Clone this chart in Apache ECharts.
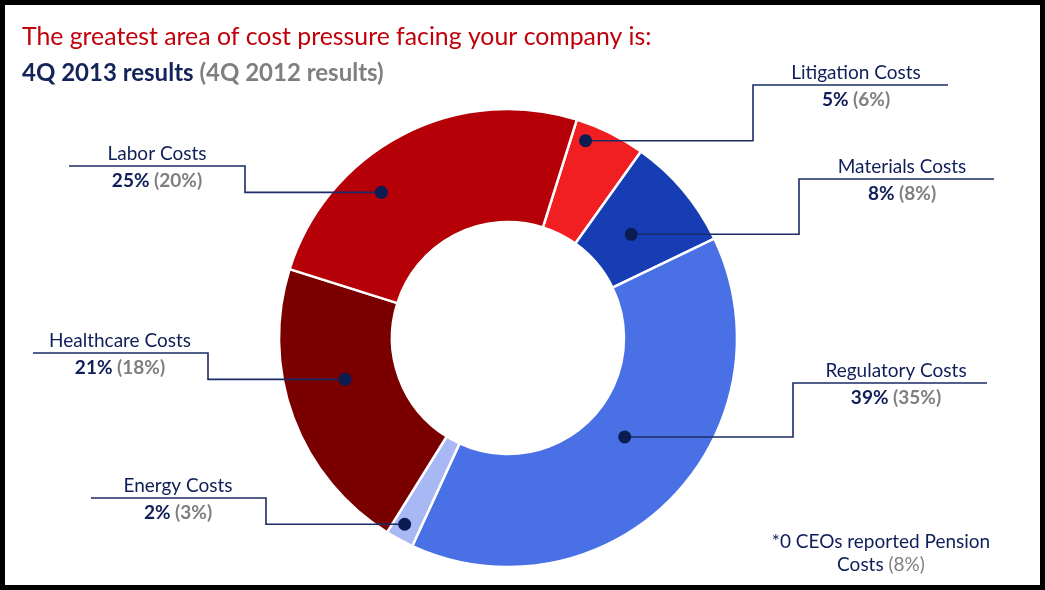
<!DOCTYPE html>
<html>
<head>
<meta charset="utf-8">
<script src="https://cdn.jsdelivr.net/npm/echarts@6/dist/echarts.min.js"></script>
<style>
  html, body { margin: 0; padding: 0; background: #fff; }
  #chart { width: 1045px; height: 590px; }
</style>
</head>
<body>
<div id="chart"></div>
<script>
// slices, clockwise from the top
var names = ['Litigation Costs', 'Materials Costs', 'Regulatory Costs', 'Energy Costs', 'Healthcare Costs', 'Labor Costs'];
var values2013 = [5, 8, 39, 2, 21, 25];
var values2012 = [6, 8, 35, 3, 18, 20];
var colors = ['#F21F22', '#163DB3', '#4A70E6', '#A8B8F4', '#7A0000', '#B40006'];

// callout layout: where the dot sits inside its slice (fraction of slice, radius px),
// text centre, underline y, elbow x and far end x of the underline
var callouts = [
  { at: 0.22, r: 212, textX: 856, lineY: 85,  elbowX: 753, endX: 948 },
  { at: 0.50, r: 161, textX: 902, lineY: 179, elbowX: 799, endX: 994 },
  { at: 0.47, r: 153, textX: 896, lineY: 383, elbowX: 793, endX: 987 },
  { at: 0.60, r: 213, textX: 178, lineY: 498, elbowX: 266, endX: 91 },
  { at: 0.58, r: 168, textX: 120, lineY: 353, elbowX: 208, endX: 33 },
  { at: 0.35, r: 193, textX: 157, lineY: 166, elbowX: 245, endX: 69 }
];

var CENTER = [508, 338];
var R_IN = 116, R_OUT = 229;
var START = 72.5;
var NAVY = '#0F1E58';
var GREY = '#7F7F7F';
var FONT = 'Lato';
var LBL = '19px ' + FONT;
var LBL_B = 'bold 19px ' + FONT;

var total = values2013.reduce(function (a, b) { return a + b; }, 0);

var pieData = names.map(function (n, i) {
  return { name: n, value: values2013[i], itemStyle: { color: colors[i] } };
});

// dot positions on the polar system: [radius, angle value in % of the whole]
var dotData = [];
var acc = 0;
for (var i = 0; i < values2013.length; i++) {
  var pct = values2013[i] / total * 100;
  dotData.push([callouts[i].r, acc + pct * callouts[i].at, i]);
  acc += pct;
}

var chart = echarts.init(document.getElementById('chart'));

chart.setOption({
  animation: false,
  backgroundColor: '#fff',
  textStyle: { fontFamily: FONT },
  polar: { center: CENTER, radius: R_OUT },
  angleAxis: { type: 'value', min: 0, max: 100, startAngle: START, clockwise: true, show: false },
  radiusAxis: { type: 'value', min: 0, max: R_OUT, show: false },
  graphic: [
    {
      type: 'rect', silent: true, z: 100,
      shape: { x: 2.5, y: 2.5, width: 1040, height: 585 },
      style: { fill: 'none', stroke: '#000', lineWidth: 5 }
    },
    {
      type: 'text', left: 22, top: 25,
      style: {
        text: 'The greatest area of cost pressure facing your company is:',
        fill: '#C0000A', font: '24.8px ' + FONT
      }
    },
    {
      type: 'text', left: 22, top: 61,
      style: {
        text: '{a|4Q 2013 results }{b|(4Q 2012 results)}',
        rich: {
          a: { fill: '#14235A', font: 'bold 24px ' + FONT },
          b: { fill: GREY, font: 'bold 24px ' + FONT }
        }
      }
    },
    {
      type: 'text', x: 881, y: 530,
      style: {
        text: '{n|*0 CEOs reported Pension}\n{n|Costs }{g|(8%)}',
        align: 'center',
        rich: {
          n: { fill: NAVY, font: LBL, lineHeight: 23 },
          g: { fill: GREY, font: LBL, lineHeight: 23 }
        }
      }
    }
  ],
  series: [
    {
      type: 'pie',
      center: CENTER,
      radius: [R_IN, R_OUT],
      startAngle: START,
      clockwise: true,
      silent: true,
      label: { show: false },
      labelLine: { show: false },
      itemStyle: { borderColor: '#fff', borderWidth: 2.5 },
      emphasis: { disabled: true },
      data: pieData
    },
    {
      type: 'custom',
      coordinateSystem: 'polar',
      silent: true,
      z: 5,
      data: dotData,
      renderItem: function (params, api) {
        var idx = api.value(2);
        var c = callouts[idx];
        var p = api.coord([api.value(0), api.value(1)]);
        return {
          type: 'group',
          children: [
            {
              type: 'polyline',
              shape: { points: [p, [c.elbowX, p[1]], [c.elbowX, c.lineY], [c.endX, c.lineY]] },
              style: { stroke: '#1B2B66', lineWidth: 1.6, fill: null }
            },
            {
              type: 'circle',
              shape: { cx: p[0], cy: p[1], r: 6.5 },
              style: { fill: '#0B1C52' }
            },
            {
              type: 'text',
              style: {
                x: c.textX, y: c.lineY - 12.5,
                text: names[idx], align: 'center', verticalAlign: 'middle',
                fill: NAVY, font: LBL
              }
            },
            {
              type: 'text',
              style: {
                x: c.textX, y: c.lineY + 15,
                text: '{a|' + values2013[idx] + '% }{b|(' + values2012[idx] + '%)}',
                align: 'center', verticalAlign: 'middle',
                rich: {
                  a: { fill: NAVY, font: LBL_B },
                  b: { fill: GREY, font: LBL_B }
                }
              }
            }
          ]
        };
      }
    }
  ]
});
</script>
</body>
</html>
